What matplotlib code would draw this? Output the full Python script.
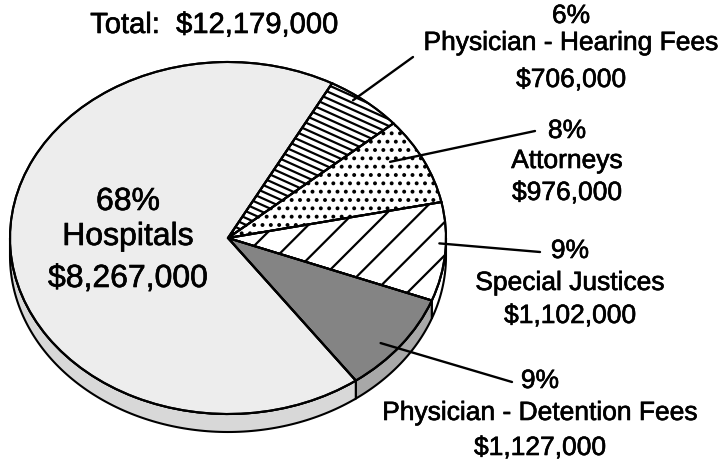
import numpy as np
import matplotlib
matplotlib.use("Agg")
import matplotlib.pyplot as plt
from matplotlib.patches import Polygon, Wedge
from matplotlib.collections import LineCollection
import matplotlib.patheffects as pe

# ---- data ----
categories = ["Physician - Hearing Fees", "Attorneys", "Special Justices",
              "Physician - Detention Fees", "Hospitals"]
values = [706000, 976000, 1102000, 1127000, 8267000]
pct_labels = ["6%", "8%", "9%", "9%", "68%"]
amount_labels = ["$706,000", "$976,000", "$1,102,000", "$1,127,000", "$8,267,000"]
total_label = "Total:  $12,179,000"

# ---- styles / layout ----
face_colors = ["white", "white", "white", "#848484", "#ededed"]
rim_colors = ["white", "white", "white", "#a8a8a8", "#d8d8d8"]
hatches = [None, "..", "/", None, None]
# custom shallow line hatch for the first wedge: (slope in px, spacing px)
custom_hatch = [(0.45, 6.8), None, None, None, None]

W, H = 724, 461
CX, CY, RX, RY, DEPTH = 228, 238, 218, 176, 18

# label layout (pixels, top-left origin): center x, baselines of 3 lines
label_pos = [
    (571, [23, 50, 87]),
    (567, [138, 168, 200]),
    (570, [258, 290, 323]),
    (540, [388, 420, 455]),
    (128, [210, 245, 287]),
]
label_size = [19, 19, 19, 19, 23]
# leader lines: (angle shift from mid, radius) -> end pixel
leader_anchor = [(2.7, 0.97), (4.0, 0.86), (2.7, 0.97), (-3.0, 0.92), None]
leader_end = [(413, 57), (535, 131), (540, 252), (512, 382), None]

plt.rcParams['font.family'] = ['Liberation Sans', 'DejaVu Sans']
plt.rcParams['hatch.linewidth'] = 1.6
plt.rcParams['hatch.color'] = 'black'

fig = plt.figure(figsize=(W / 100, H / 100), dpi=100)
ax = fig.add_axes([0, 0, 1, 1])

wedges, _ = ax.pie(values, startangle=61.5, counterclock=False, colors=face_colors,
                   wedgeprops=dict(edgecolor='black', linewidth=1.5, zorder=3))
for w, h in zip(wedges, hatches):
    if h:
        w.set_hatch(h)

ax.set_aspect('auto')
ax.set_xlim(-CX / RX, (W - CX) / RX)
ax.set_ylim((CY - H) / RY, CY / RY)
ax.axis('off')

# custom hatch lines clipped to wedge
for w, ch in zip(wedges, custom_hatch):
    if ch is None:
        continue
    slope, sp = ch
    xs = np.array([CX - 20, W])
    segs = []
    for c in np.arange(-300, 500, sp):
        ys = c + slope * (xs - CX)
        segs.append(np.column_stack([(xs - CX) / RX, (CY - ys) / RY]))
    lc = LineCollection(segs, colors='black', linewidths=1.6, zorder=3.5)
    ax.add_collection(lc)
    lc.set_clip_path(w)

# 3D rim (visible lower half)
dd = DEPTH / RY
for w, rc in zip(wedges, rim_colors):
    t1, t2 = w.theta1, w.theta2
    for k in range(-2, 3):
        lo = max(t1, -180 + 360 * k)
        hi = min(t2, 360 * k)
        if hi > lo:
            t = np.radians(np.linspace(lo, hi, 120))
            top = np.column_stack([np.cos(t), np.sin(t)])
            bot = np.column_stack([np.cos(t[::-1]), np.sin(t[::-1]) - dd])
            ax.add_patch(Polygon(np.vstack([top, bot]), closed=True, facecolor=rc,
                                 edgecolor='black', lw=1.5, zorder=2))

# re-draw wedge outlines above the custom hatch
for w in wedges:
    ax.add_patch(Wedge(w.center, w.r, w.theta1, w.theta2,
                       facecolor='none', edgecolor='black', lw=1.5, zorder=4))

# leader lines
for w, anc, end in zip(wedges, leader_anchor, leader_end):
    if anc is None:
        continue
    mid = np.radians((w.theta1 + w.theta2) / 2 + anc[0])
    xy = (anc[1] * np.cos(mid), anc[1] * np.sin(mid))
    ax.annotate('', xy=xy, xycoords='data', xytext=(end[0], H - end[1]),
                textcoords='figure pixels',
                arrowprops=dict(arrowstyle='-', lw=1.7, color='black',
                                shrinkA=0, shrinkB=0), zorder=5)

thick = [pe.withStroke(linewidth=0.45, foreground='black')]

# labels
for cat, pct, amt, (x, ys), fs in zip(categories, pct_labels, amount_labels,
                                      label_pos, label_size):
    for txt, y in zip([pct, cat, amt], ys):
        fig.text(x / W, 1 - y / H, txt, ha='center', va='baseline',
                 fontsize=fs, color='black', zorder=6, path_effects=thick)

fig.text(214 / W, 1 - 33 / H, total_label, ha='center', va='baseline',
         fontsize=21, color='black', path_effects=thick)

fig.savefig("out.png", dpi=100)
